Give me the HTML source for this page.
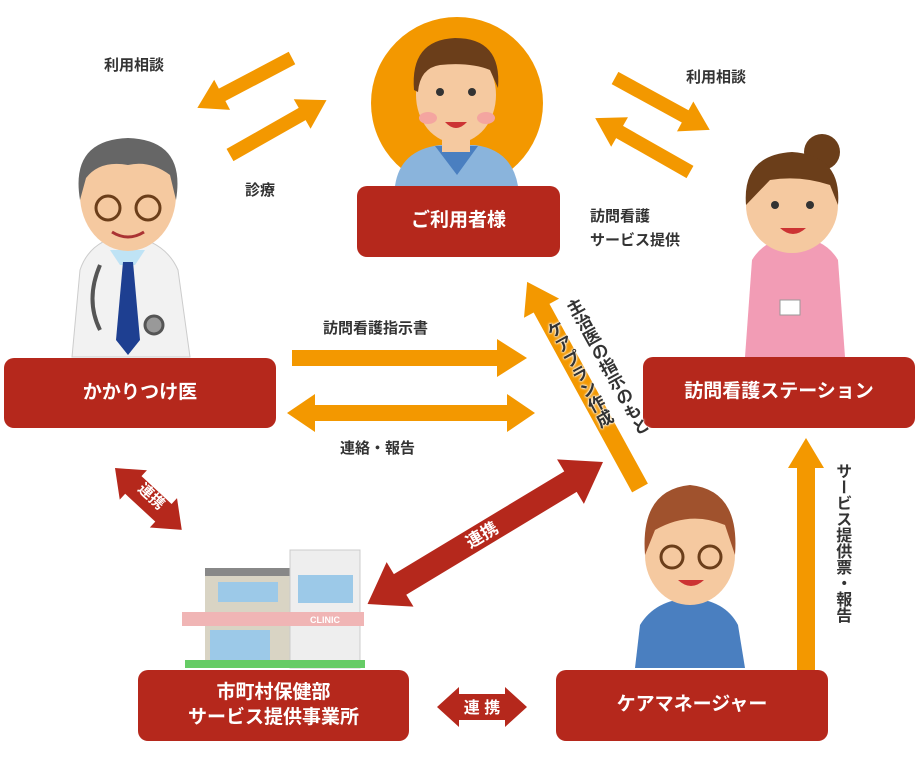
<!DOCTYPE html>
<html><head><meta charset="utf-8"><style>
body{margin:0;width:920px;height:770px;background:#fff;position:relative;overflow:hidden;font-family:"Liberation Sans","Noto Sans CJK JP",sans-serif;}
svg{position:absolute;left:0;top:0}
.t{position:absolute;font-weight:bold;color:#333;font-size:15px;white-space:nowrap;line-height:1.2}
.box{position:absolute;background:#b5281c;border-radius:10px;color:#fff;font-weight:bold;font-size:19px;display:flex;align-items:center;justify-content:center;text-align:center;line-height:1.3}
.v{writing-mode:vertical-rl;text-orientation:upright;}
.h{text-shadow:0 0 2px #fff,0 0 2px #fff,0 0 3px #fff}
</style></head><body>
<svg width="920" height="770" viewBox="0 0 920 770">
<circle cx="457" cy="103" r="86" fill="#f39800"/>
<path d="M395,186 Q400,150 440,145 L475,145 Q512,150 518,186 Z" fill="#8ab4dc"/>
<path d="M435,146 L457,175 L478,146 Z" fill="#4a7fc0"/>
<rect x="442" y="130" width="28" height="22" fill="#f5c9a0"/>
<ellipse cx="456" cy="95" rx="40" ry="48" fill="#f5c9a0"/>
<path d="M414,90 Q410,40 455,38 Q502,38 498,88 L490,70 Q470,62 440,65 Q420,68 418,92 Z" fill="#6b3e1a"/>
<circle cx="440" cy="92" r="4" fill="#333"/><circle cx="472" cy="92" r="4" fill="#333"/>
<ellipse cx="428" cy="118" rx="9" ry="6" fill="#f4a5a0"/><ellipse cx="486" cy="118" rx="9" ry="6" fill="#f4a5a0"/>
<path d="M445,122 Q456,134 467,122 Z" fill="#c33"/>
<path d="M72,357 L80,270 Q90,240 125,235 Q165,240 178,270 L190,357 Z" fill="#f2f2f2" stroke="#ccc"/>
<path d="M110,250 L145,250 L135,265 L120,265 Z" fill="#bfe3f5"/>
<path d="M123,262 L133,262 L140,340 L128,355 L116,340 Z" fill="#1e3f91"/>
<path d="M100,265 Q85,300 100,330" fill="none" stroke="#555" stroke-width="4"/>
<circle cx="154" cy="325" r="9" fill="#999" stroke="#555" stroke-width="3"/>
<ellipse cx="128" cy="195" rx="48" ry="56" fill="#f5c9a0"/>
<path d="M80,200 Q70,140 128,138 Q186,140 176,200 L170,175 Q150,160 128,165 Q100,160 86,178 Z" fill="#666"/>
<circle cx="108" cy="208" r="12" fill="none" stroke="#6b3e1a" stroke-width="3"/><circle cx="148" cy="208" r="12" fill="none" stroke="#6b3e1a" stroke-width="3"/>
<path d="M112,232 Q128,242 144,232" fill="none" stroke="#a33" stroke-width="3"/>
<path d="M745,357 L752,260 Q765,238 795,237 Q825,238 838,260 L845,357 Z" fill="#f29cb5"/>
<circle cx="822" cy="152" r="18" fill="#6b3e1a"/>
<ellipse cx="792" cy="205" rx="46" ry="48" fill="#f5c9a0"/>
<path d="M746,205 Q742,155 792,152 Q842,155 838,205 L830,185 Q800,175 770,180 Z" fill="#6b3e1a"/>
<circle cx="775" cy="205" r="4" fill="#333"/><circle cx="810" cy="205" r="4" fill="#333"/>
<path d="M780,228 Q793,240 806,228 Z" fill="#c33"/>
<rect x="780" y="300" width="20" height="15" fill="#fff" stroke="#999"/>
<path d="M635,668 L640,625 Q655,600 690,598 Q725,600 738,625 L745,668 Z" fill="#4a7fc0"/>
<ellipse cx="690" cy="555" rx="45" ry="50" fill="#f5c9a0"/>
<path d="M645,555 Q640,490 690,485 Q740,490 735,555 L725,525 Q690,510 655,530 Z" fill="#a0522d"/>
<circle cx="672" cy="557" r="11" fill="none" stroke="#6b3e1a" stroke-width="3"/><circle cx="710" cy="557" r="11" fill="none" stroke="#6b3e1a" stroke-width="3"/>
<path d="M678,580 Q691,592 704,580 Z" fill="#c33"/>
<rect x="205" y="568" width="85" height="100" fill="#d9d4c4"/>
<rect x="205" y="568" width="85" height="8" fill="#888"/>
<rect x="218" y="582" width="60" height="20" fill="#9cc9e8"/>
<rect x="290" y="550" width="70" height="118" fill="#eee" stroke="#ccc"/>
<rect x="298" y="575" width="55" height="28" fill="#9cc9e8"/>
<rect x="182" y="612" width="182" height="14" fill="#f0b5b5"/>
<text x="325" y="623" font-size="9" fill="#fff" text-anchor="middle" font-weight="bold">CLINIC</text>
<rect x="210" y="630" width="60" height="35" fill="#9cc9e8"/>
<rect x="185" y="660" width="180" height="8" fill="#6c6"/>
<g fill="#f39800">
<polygon transform="translate(292,58) rotate(152.2)" points="0,-7 79,-7 79,-17 107,0 79,17 79,7 0,7"/>
<polygon transform="translate(230,155) rotate(-29.6)" points="0,-7 83,-7 83,-17 111,0 83,17 83,7 0,7"/>
<polygon transform="translate(615,78) rotate(28.7)" points="0,-7 80,-7 80,-17 108,0 80,17 80,7 0,7"/>
<polygon transform="translate(690,172) rotate(209.6)" points="0,-7 81,-7 81,-17 109,0 81,17 81,7 0,7"/>
<polygon transform="translate(292,358)" points="0,-8 205,-8 205,-19 235,0 205,19 205,8 0,8"/>
<polygon transform="translate(287,413)" points="0,0 28,-19 28,-8 220,-8 220,-19 248,0 220,19 220,8 28,8 28,19"/>
<polygon transform="translate(640,488) rotate(241.3)" points="0,-9 205,-9 205,-20 235,0 205,20 205,9 0,9"/>
<polygon transform="translate(806,670)" points="-9,0 -9,-202 -18,-202 0,-232 18,-202 9,-202 9,0"/>
</g>
<g fill="#b5281c">
<polygon transform="translate(603,462) rotate(148.9)" points="0,0 38,-26 38,-12 237,-12 237,-26 275,0 237,26 237,12 38,12 38,26"/>
<polygon transform="translate(115,468) rotate(42.8)" points="0,0 25,-20 25,-12 66,-12 66,-20 91,0 66,20 66,12 25,12 25,20"/>
<polygon transform="translate(437,707)" points="0,0 22,-20 22,-13 68,-13 68,-20 90,0 68,20 68,13 22,13 22,20"/>
</g>
<g fill="#fff" font-weight="bold" font-size="17" font-family="Liberation Sans,Noto Sans CJK JP,sans-serif" text-anchor="middle">
<text transform="translate(485,540) rotate(-31)">連携</text>
<text transform="translate(148,500) rotate(42.8)" font-size="15">連携</text>
<text x="482" y="713" font-size="16">連 携</text>
</g>
</svg>
<div class="box" style="left:357px;top:186px;width:203px;height:71px">ご利用者様</div>
<div class="box" style="left:4px;top:358px;width:272px;height:70px">かかりつけ医</div>
<div class="box" style="left:643px;top:357px;width:272px;height:71px">訪問看護ステーション</div>
<div class="box" style="left:138px;top:670px;width:271px;height:71px">市町村保健部<br>サービス提供事業所</div>
<div class="box" style="left:556px;top:670px;width:272px;height:71px">ケアマネージャー</div>
<div class="t" style="left:104px;top:57px">利用相談</div>
<div class="t" style="left:245px;top:182px">診療</div>
<div class="t" style="left:686px;top:69px">利用相談</div>
<div class="t" style="left:590px;top:205px;line-height:24px">訪問看護<br>サービス提供</div>
<div class="t" style="left:323px;top:320px">訪問看護指示書</div>
<div class="t" style="left:340px;top:440px">連絡・報告</div>
<div class="t v" style="left:832px;top:463px;font-size:16px">サービス提供票・報告</div>
<div style="position:absolute;left:548px;top:312px;transform-origin:0 0;transform:rotate(-28.7deg)">
<div class="t v h" style="position:absolute;left:14px;top:0;font-size:17px;line-height:20px">主治医の指示のもと</div>
<div class="t v h" style="position:absolute;left:-14px;top:10px;font-size:17px;line-height:20px">ケアプラン作成</div>
</div>
</body></html>
